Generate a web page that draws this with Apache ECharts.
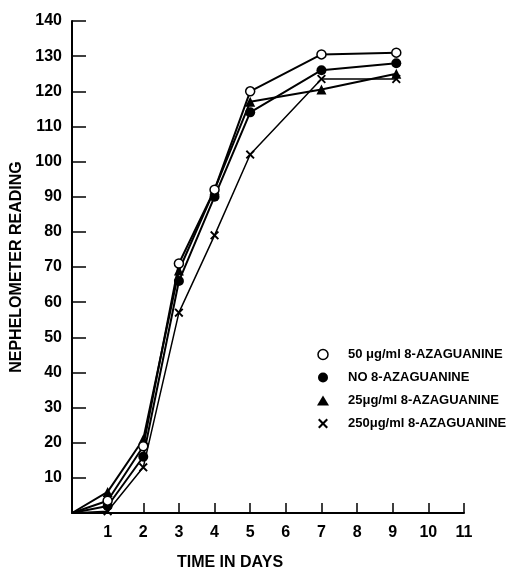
<!DOCTYPE html>
<html>
<head>
<meta charset="utf-8">
<script src="https://cdn.jsdelivr.net/npm/echarts@6/dist/echarts.min.js"></script>
<style>
  html, body { margin: 0; padding: 0; background: #fff; }
  #chart { width: 514px; height: 572px; }
</style>
</head>
<body>
<div id="chart"></div>
<script>
const days = [0, 1, 2, 3, 4, 5, 7, 9.1]
const seriesNames = [
  '50 μg/ml 8-AZAGUANINE',
  'NO 8-AZAGUANINE',
  '25μg/ml 8-AZAGUANINE',
  '250μg/ml 8-AZAGUANINE',
]
const aza50 = [0, 3.5, 19, 71, 92, 120, 130.5, 131]
const azaNone = [0, 2, 16, 66, 90, 114, 126, 128]
const aza25 = [0, 6, 21, 69, 92, 117, 120.5, 125]
const aza250 = [0, 0.5, 13, 57, 79, 102, 123.5, 123.5]

const font = '"Liberation Sans", Arial, sans-serif'
const crossPath = 'path://M0,1.5L1.5,0L5,3.5L8.5,0L10,1.5L6.5,5L10,8.5L8.5,10L5,6.5L1.5,10L0,8.5L3.5,5Z'

// origin point has no marker in the original
function pairs(values) {
  return days.map((d, i) => (i === 0 ? { value: [d, values[i]], symbol: 'none' } : [d, values[i]]))
}

const chart = echarts.init(document.getElementById('chart'))

const markers = [
  { symbol: 'circle', size: 9, fill: '#fff', border: 1.5, width: 2 },
  { symbol: 'circle', size: 10, fill: '#000', border: 0, width: 2 },
  { symbol: 'triangle', size: 10, fill: '#000', border: 0, width: 2 },
  { symbol: crossPath, size: 9, fill: '#000', border: 0, width: 1.5 },
]
const allValues = [aza50, azaNone, aza25, aza250]

chart.setOption({
  animation: false,
  grid: { left: 72, right: 50, top: 21, bottom: 59, outerBoundsMode: 'none' },
  legend: {
    orient: 'vertical',
    left: 312,
    top: 343,
    itemGap: 10,
    itemWidth: 12,
    itemHeight: 10,
    textStyle: { color: '#000', fontFamily: font, fontWeight: 'bold', fontSize: 13, padding: [0, 0, 0, 14] },
    data: seriesNames.map((name, i) => ({
      name,
      icon: i === 0 ? 'circle' : markers[i].symbol,
      itemStyle: {
        color: markers[i].fill,
        borderColor: '#000',
        borderWidth: markers[i].border,
      },
    })),
  },
  xAxis: {
    type: 'value',
    min: 0,
    max: 11,
    interval: 1,
    axisLine: { lineStyle: { color: '#000', width: 2 } },
    axisTick: { inside: true, length: 10, lineStyle: { color: '#000', width: 1.5 } },
    splitLine: { show: false },
    axisLabel: {
      color: '#000',
      fontFamily: font,
      fontWeight: 'bold',
      fontSize: 16,
      margin: 12,
      formatter: (v) => (v === 0 ? '' : String(v)),
    },
  },
  yAxis: {
    type: 'value',
    min: 0,
    max: 140,
    interval: 10,
    name: 'NEPHELOMETER READING',
    nameLocation: 'middle',
    nameGap: 41,
    nameTextStyle: { color: '#000', fontFamily: font, fontWeight: 'bold', fontSize: 16 },
    axisLine: { lineStyle: { color: '#000', width: 2 } },
    axisTick: { inside: true, length: 14, lineStyle: { color: '#000', width: 1.5 } },
    splitLine: { show: false },
    axisLabel: {
      color: '#000',
      fontFamily: font,
      fontWeight: 'bold',
      fontSize: 16,
      margin: 10,
      formatter: (v) => (v === 0 ? '' : String(v)),
    },
  },
  graphic: [
    {
      type: 'text',
      x: 230,
      y: 563,
      style: {
        text: 'TIME IN DAYS',
        fill: '#000',
        font: 'bold 16px ' + font,
        textAlign: 'center',
        textVerticalAlign: 'middle',
      },
    },
  ],
  series: seriesNames.map((name, i) => ({
    name,
    type: 'line',
    data: pairs(allValues[i]),
    symbol: markers[i].symbol,
    symbolSize: markers[i].size,
    showAllSymbol: true,
    lineStyle: { color: '#000', width: markers[i].width },
    itemStyle: {
      color: markers[i].fill,
      borderColor: '#000',
      borderWidth: markers[i].border,
    },
    z: 4 - i,
  })),
})
</script>
</body>
</html>
